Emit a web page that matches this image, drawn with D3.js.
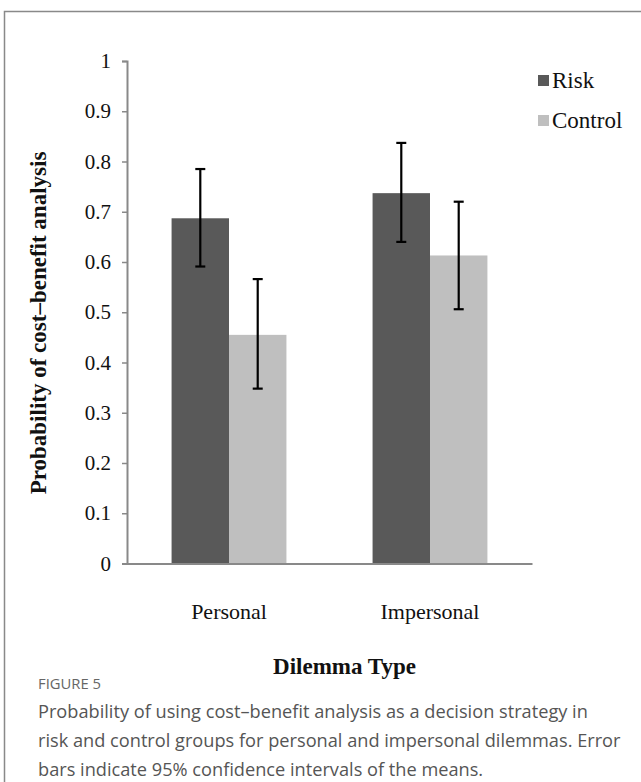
<!DOCTYPE html>
<html>
<head>
<meta charset="utf-8">
<script src="https://cdn.jsdelivr.net/npm/d3@7"></script>
<style>
  body { margin: 0; background: #fff; }
  svg { display: block; }
</style>
</head>
<body>
<svg id="chart" width="641" height="782"></svg>
<script>
// chart data
const dilemmaTypes = ["Personal", "Impersonal"];
const groups = ["Risk", "Control"];
const riskMeans = [0.687, 0.737];
const riskLower = [0.591, 0.640];
const riskUpper = [0.785, 0.837];
const controlMeans = [0.455, 0.613];
const controlLower = [0.348, 0.506];
const controlUpper = [0.566, 0.720];
const yTicks = [0, 0.1, 0.2, 0.3, 0.4, 0.5, 0.6, 0.7, 0.8, 0.9, 1];
const captionLines = [
  "Probability of using cost\u2013benefit analysis as a decision strategy in",
  "risk and control groups for personal and impersonal dilemmas. Error",
  "bars indicate 95% confidence intervals of the means."
];

const colors = { Risk: "#595959", Control: "#bfbfbf" };
const axisGray = "#898989";
const serif = "'Liberation Serif', 'Times New Roman', serif";

const rows = [];
dilemmaTypes.forEach((t, i) => {
  rows.push({ type: t, group: "Risk", mean: riskMeans[i], lo: riskLower[i], hi: riskUpper[i] });
  rows.push({ type: t, group: "Control", mean: controlMeans[i], lo: controlLower[i], hi: controlUpper[i] });
});

const svg = d3.select("#chart");

// outer frame of the figure panel
svg.append("rect")
  .attr("x", 4.5).attr("y", 11.5)
  .attr("width", 700).attr("height", 900)
  .attr("fill", "none")
  .attr("stroke", axisGray)
  .attr("stroke-width", 1.5);

const plotLeft = 127, plotRight = 532, plotTop = 61, plotBottom = 563.5;

const x0 = d3.scaleBand().domain(dilemmaTypes).range([plotLeft, plotRight]).paddingInner(0).paddingOuter(0.0075);
const x1 = d3.scaleBand().domain(groups).range([0, x0.bandwidth()]).paddingInner(0).paddingOuter(0.75);
const y = d3.scaleLinear().domain([0, 1]).range([plotBottom, plotTop]);

// bars
svg.append("g")
  .selectAll("rect")
  .data(rows)
  .join("rect")
    .attr("x", d => x0(d.type) + x1(d.group))
    .attr("y", d => y(d.mean))
    .attr("width", x1.bandwidth())
    .attr("height", d => y(0) - y(d.mean))
    .attr("fill", d => colors[d.group]);

// error bars
const err = svg.append("g").attr("stroke", "#000").attr("stroke-width", 2.2);
const cx = d => x0(d.type) + x1(d.group) + x1.bandwidth() / 2;
err.selectAll("line.v").data(rows).join("line")
  .attr("class", "v")
  .attr("x1", cx).attr("x2", cx)
  .attr("y1", d => y(d.lo)).attr("y2", d => y(d.hi));
err.selectAll("line.hi").data(rows).join("line")
  .attr("class", "hi")
  .attr("x1", d => cx(d) - 5).attr("x2", d => cx(d) + 5)
  .attr("y1", d => y(d.hi)).attr("y2", d => y(d.hi));
err.selectAll("line.lo").data(rows).join("line")
  .attr("class", "lo")
  .attr("x1", d => cx(d) - 5).attr("x2", d => cx(d) + 5)
  .attr("y1", d => y(d.lo)).attr("y2", d => y(d.lo));

// y axis
const yAxis = svg.append("g")
  .attr("transform", `translate(${plotLeft},0)`)
  .call(d3.axisLeft(y).tickValues(yTicks).tickSize(5).tickPadding(11).tickFormat(d => d === 0 || d === 1 ? d : d3.format(".1f")(d)));
yAxis.select(".domain").attr("stroke", axisGray).attr("stroke-width", 2);
yAxis.selectAll(".tick line").attr("stroke", axisGray).attr("stroke-width", 1.5);
yAxis.selectAll(".tick text")
  .attr("font-family", serif).attr("font-size", 21).attr("fill", "#111");

// x axis
const xAxis = svg.append("g")
  .attr("transform", `translate(0,${plotBottom})`)
  .call(d3.axisBottom(x0).tickSize(0).tickPadding(40));
xAxis.select(".domain").attr("stroke", axisGray).attr("stroke-width", 2);
xAxis.selectAll(".tick text")
  .attr("font-family", serif).attr("font-size", 22).attr("fill", "#111");

// axis titles
svg.append("text")
  .attr("transform", `translate(46,323) rotate(-90)`)
  .attr("text-anchor", "middle")
  .attr("font-family", serif).attr("font-weight", "bold").attr("font-size", 23)
  .attr("fill", "#111")
  .text("Probability of cost\u2013benefit analysis");

svg.append("text")
  .attr("x", (plotLeft + plotRight) / 2 + 15).attr("y", 674)
  .attr("text-anchor", "middle")
  .attr("font-family", serif).attr("font-weight", "bold").attr("font-size", 23)
  .attr("fill", "#111")
  .text("Dilemma Type");

// legend
const legend = svg.append("g")
  .selectAll("g")
  .data(groups)
  .join("g")
    .attr("transform", (d, i) => `translate(538,${80 + i * 40})`);
legend.append("rect")
  .attr("x", 0).attr("y", -5).attr("width", 11).attr("height", 11)
  .attr("fill", d => colors[d]);
legend.append("text")
  .attr("x", 14).attr("y", 7.5)
  .attr("font-family", serif).attr("font-size", 23).attr("fill", "#111")
  .text(d => d);

// caption
svg.append("text")
  .attr("x", 38).attr("y", 689)
  .attr("font-family", "'Open Sans', sans-serif").attr("font-size", 14.8)
  .attr("fill", "#666")
  .text("FIGURE 5");

svg.append("g")
  .selectAll("text")
  .data(captionLines)
  .join("text")
    .attr("x", 38)
    .attr("y", (d, i) => 718 + i * 29)
    .attr("font-family", "'Open Sans', sans-serif").attr("font-size", 18.2)
    .attr("fill", "#555")
    .text(d => d);
</script>
</body>
</html>
